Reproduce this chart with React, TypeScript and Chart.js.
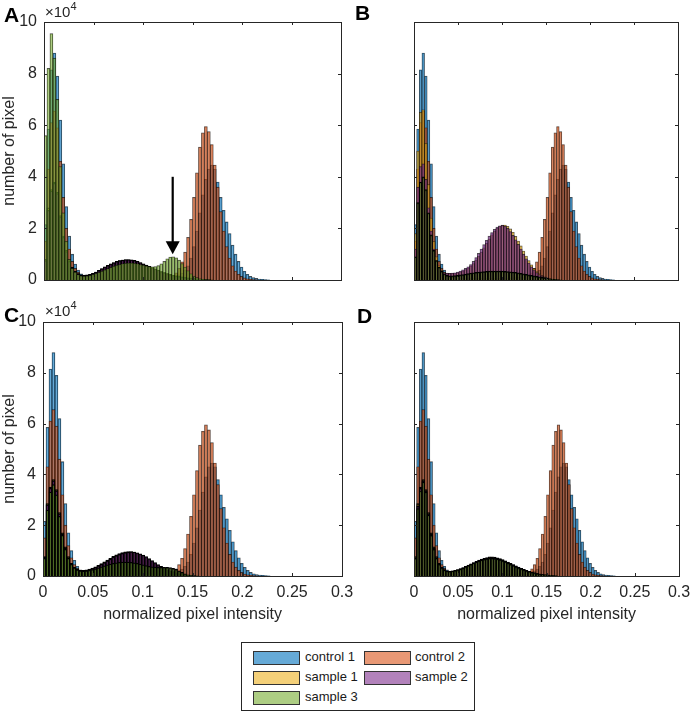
import React, { useEffect, useRef } from "react";
import { Chart, registerables } from "chart.js";

Chart.register(...registerables);

const FONT = "'Liberation Sans', Arial, Helvetica, sans-serif";
const AXIS_COLOR = "#262626";

// ---------- data (y in units of 10^4 pixels) ----------
const BIN_WIDTH = 0.003;
const X_MIN = 0;
const X_MAX = 0.3;
const X_STEP = 0.05;
const Y_MIN = 0;
const Y_MAX = 10;
const Y_STEP = 2;
const X_TICKS = [0, 0.05, 0.1, 0.15, 0.2, 0.25, 0.3];
const Y_TICKS = [0, 2, 4, 6, 8, 10];
const SERIES = ["control 1", "control 2", "sample 1", "sample 2", "sample 3"];
const X_TITLE = "normalized pixel intensity";
const Y_TITLE = "number of pixel";
const Y_EXPONENT = "4";

const control1 = [
  2.15, 5.85, 8.15, 8.8, 7.9, 6.2, 4.5, 2.85, 1.7, 1.0,
  0.62, 0.38, 0.24, 0.16, 0.12, 0.1, 0.09, 0.08, 0.08, 0.07,
  0.07, 0.06, 0.06, 0.06, 0.06, 0.06, 0.06, 0.06, 0.06, 0.06,
  0.06, 0.06, 0.06, 0.07, 0.07, 0.08, 0.08, 0.09, 0.1, 0.11,
  0.12, 0.13, 0.14, 0.15, 0.17, 0.2, 0.27, 0.38, 0.55, 0.85,
  1.3, 1.9, 2.6, 3.3, 3.9, 4.3, 4.45, 4.3, 3.8, 3.2,
  2.7, 2.25, 1.8, 1.35, 1.0, 0.72, 0.5, 0.34, 0.22, 0.14,
  0.09, 0.06, 0.04, 0.03, 0.02, 0.01,
];
const control2 = [
  1.5, 4.3, 6.1, 6.55, 5.9, 4.6, 3.2, 2.0, 1.2, 0.72,
  0.45, 0.3, 0.2, 0.14, 0.1, 0.08, 0.07, 0.06, 0.06, 0.05,
  0.05, 0.05, 0.05, 0.05, 0.05, 0.05, 0.05, 0.05, 0.05, 0.05,
  0.05, 0.05, 0.05, 0.05, 0.05, 0.05, 0.06, 0.06, 0.07, 0.08,
  0.09, 0.1, 0.13, 0.18, 0.28, 0.45, 0.7, 1.08, 1.65, 2.35,
  3.2, 4.15, 5.15, 5.7, 5.95, 5.75, 5.25, 4.45, 3.6, 2.65,
  1.9, 1.3, 0.85, 0.55, 0.35, 0.22, 0.14, 0.08, 0.05, 0.03,
  0.02, 0.01,
];

// Panel A
const sampleA1 = [
  0.8, 2.8, 3.5, 3.8, 3.4, 2.5, 1.7, 1.15, 0.75, 0.5,
  0.35, 0.25, 0.2, 0.19, 0.2, 0.22, 0.26, 0.31, 0.37, 0.43,
  0.5, 0.56, 0.62, 0.67, 0.71, 0.75, 0.77, 0.78, 0.78, 0.77,
  0.74, 0.71, 0.67, 0.62, 0.57, 0.52, 0.47, 0.42, 0.37, 0.33,
  0.29, 0.25, 0.22, 0.19, 0.16, 0.14, 0.12, 0.1, 0.08, 0.07,
  0.06, 0.05, 0.04, 0.03, 0.03, 0.02, 0.01,
];
const sampleA2 = [
  0.75, 2.7, 3.45, 3.75, 3.35, 2.45, 1.65, 1.1, 0.72, 0.48,
  0.33, 0.24, 0.19, 0.18, 0.19, 0.22, 0.26, 0.31, 0.37, 0.44,
  0.51, 0.57, 0.63, 0.68, 0.72, 0.75, 0.77, 0.79, 0.79, 0.78,
  0.76, 0.72, 0.68, 0.63, 0.58, 0.53, 0.48, 0.43, 0.38, 0.33,
  0.29, 0.25, 0.21, 0.18, 0.15, 0.13, 0.11, 0.09, 0.07, 0.06,
  0.05, 0.04, 0.03, 0.02, 0.02, 0.01,
];
const sampleA3 = [
  5.6, 8.2, 9.55, 8.6, 7.0, 4.4, 2.6, 1.5, 0.8, 0.45,
  0.3, 0.2, 0.16, 0.15, 0.16, 0.18, 0.21, 0.25, 0.29, 0.34,
  0.39, 0.44, 0.49, 0.53, 0.57, 0.6, 0.63, 0.65, 0.66, 0.66,
  0.65, 0.63, 0.6, 0.57, 0.54, 0.52, 0.51, 0.52, 0.56, 0.63,
  0.72, 0.82, 0.89, 0.9, 0.86, 0.77, 0.64, 0.5, 0.36, 0.24,
  0.15, 0.09, 0.05, 0.03, 0.02, 0.01,
];

// Panel B
const sampleB1 = [
  1.8, 5.0, 6.5, 6.6, 5.3, 3.7, 2.4, 1.5, 0.9, 0.55,
  0.38, 0.3, 0.27, 0.26, 0.26, 0.26, 0.28, 0.31, 0.35, 0.4,
  0.46, 0.54, 0.64, 0.77, 0.92, 1.08, 1.25, 1.42, 1.59, 1.75,
  1.89, 2.0, 2.08, 2.13, 2.13, 2.08, 1.98, 1.85, 1.69, 1.51,
  1.32, 1.12, 0.93, 0.75, 0.59, 0.45, 0.33, 0.24, 0.17, 0.12,
  0.08, 0.05, 0.03, 0.02, 0.01,
];
const sampleB2 = [
  1.2, 3.6, 4.4, 4.5, 3.9, 2.8, 1.9, 1.2, 0.75, 0.5,
  0.36, 0.29, 0.26, 0.26, 0.27, 0.28, 0.31, 0.35, 0.39, 0.45,
  0.51, 0.6, 0.72, 0.87, 1.03, 1.2, 1.37, 1.54, 1.7, 1.84,
  1.96, 2.05, 2.1, 2.12, 2.08, 2.0, 1.88, 1.73, 1.56, 1.38,
  1.2, 1.0, 0.82, 0.66, 0.51, 0.39, 0.29, 0.21, 0.15, 0.1,
  0.07, 0.05, 0.03, 0.02, 0.01,
];
const sampleB3 = [
  0.9, 3.0, 3.8, 4.0, 3.5, 2.6, 1.75, 1.15, 0.75, 0.5,
  0.34, 0.24, 0.18, 0.16, 0.16, 0.17, 0.18, 0.2, 0.21, 0.23,
  0.25, 0.27, 0.28, 0.3, 0.31, 0.32, 0.33, 0.34, 0.35, 0.35,
  0.35, 0.35, 0.35, 0.35, 0.34, 0.33, 0.32, 0.31, 0.3, 0.28,
  0.26, 0.24, 0.22, 0.2, 0.18, 0.16, 0.14, 0.12, 0.1, 0.08,
  0.06, 0.05, 0.04, 0.03, 0.02, 0.01,
];

// Panel C
const sampleC1 = [
  0.76, 2.85, 3.5, 3.8, 3.4, 2.5, 1.7, 1.15, 0.76, 0.5,
  0.35, 0.26, 0.22, 0.22, 0.24, 0.27, 0.31, 0.36, 0.42, 0.49,
  0.56, 0.63, 0.7, 0.77, 0.83, 0.88, 0.92, 0.95, 0.96, 0.96,
  0.94, 0.9, 0.85, 0.79, 0.72, 0.64, 0.56, 0.48, 0.41, 0.34,
  0.28, 0.22, 0.17, 0.13, 0.1, 0.07, 0.05, 0.04, 0.03, 0.02,
  0.01,
];
const sampleC2 = [
  0.74, 2.8, 3.45, 3.75, 3.35, 2.45, 1.65, 1.1, 0.72, 0.48,
  0.34, 0.25, 0.21, 0.2, 0.22, 0.25, 0.29, 0.34, 0.4, 0.46,
  0.53, 0.6, 0.67, 0.74, 0.8, 0.85, 0.89, 0.92, 0.94, 0.95,
  0.94, 0.91, 0.87, 0.82, 0.76, 0.69, 0.61, 0.53, 0.45, 0.38,
  0.31, 0.25, 0.2, 0.15, 0.11, 0.08, 0.06, 0.04, 0.03, 0.02,
  0.01,
];
const sampleC3 = [
  0.7, 2.6, 3.3, 3.6, 3.2, 2.35, 1.6, 1.05, 0.7, 0.46,
  0.32, 0.24, 0.2, 0.19, 0.2, 0.22, 0.25, 0.28, 0.32, 0.36,
  0.4, 0.44, 0.47, 0.5, 0.52, 0.54, 0.55, 0.55, 0.55, 0.54,
  0.52, 0.5, 0.47, 0.44, 0.41, 0.38, 0.36, 0.35, 0.34, 0.34,
  0.34, 0.34, 0.33, 0.3, 0.26, 0.2, 0.14, 0.09, 0.05, 0.03,
  0.02, 0.01,
];

// Panel D
const sampleD1 = [
  0.76, 2.85, 3.5, 3.8, 3.4, 2.5, 1.7, 1.15, 0.76, 0.5,
  0.35, 0.25, 0.2, 0.19, 0.2, 0.22, 0.25, 0.29, 0.33, 0.38,
  0.43, 0.48, 0.53, 0.58, 0.63, 0.67, 0.7, 0.73, 0.75, 0.75,
  0.74, 0.72, 0.69, 0.65, 0.6, 0.55, 0.5, 0.45, 0.4, 0.35,
  0.3, 0.26, 0.22, 0.18, 0.15, 0.12, 0.1, 0.08, 0.06, 0.05,
  0.04, 0.03, 0.02, 0.01,
];
const sampleD2 = [
  0.72, 2.75, 3.45, 3.75, 3.35, 2.45, 1.65, 1.1, 0.72, 0.48,
  0.33, 0.24, 0.19, 0.18, 0.19, 0.21, 0.24, 0.28, 0.32, 0.37,
  0.42, 0.47, 0.52, 0.57, 0.61, 0.65, 0.68, 0.71, 0.72, 0.73,
  0.72, 0.7, 0.67, 0.63, 0.59, 0.54, 0.49, 0.44, 0.39, 0.34,
  0.3, 0.25, 0.21, 0.18, 0.15, 0.12, 0.1, 0.08, 0.06, 0.05,
  0.04, 0.03, 0.02, 0.01,
];
const sampleD3 = [
  0.7, 2.65, 3.35, 3.7, 3.3, 2.4, 1.6, 1.05, 0.7, 0.46,
  0.32, 0.23, 0.19, 0.18, 0.19, 0.21, 0.24, 0.27, 0.31, 0.36,
  0.41, 0.46, 0.51, 0.55, 0.59, 0.63, 0.66, 0.68, 0.7, 0.7,
  0.69, 0.67, 0.64, 0.6, 0.56, 0.51, 0.46, 0.41, 0.36, 0.32,
  0.28, 0.24, 0.2, 0.17, 0.14, 0.12, 0.1, 0.08, 0.06, 0.05,
  0.04, 0.03, 0.02, 0.01,
];

// arrow annotation in panel A (data coordinates)
const ARROW_A = { x: 0.13, from: 4.0, to: 1.0 };

// ---------- styles ----------
const FILL = [
  "rgba(0,114,189,0.6)",
  "rgba(217,83,25,0.6)",
  "rgba(237,177,32,0.6)",
  "rgba(126,47,142,0.6)",
  "rgba(119,172,48,0.6)",
];

type PanelCfg = {
  letter: string;
  samples: number[][];
  dark: boolean[];
  left: number;
  top: number;
  w: number;
  h: number;
  padL: number;
  padT: number;
  padR: number;
  padB: number;
  showY: boolean;
  showX: boolean;
  arrow?: { x: number; from: number; to: number };
};

const PANELS: PanelCfg[] = [
  { letter: "A", samples: [sampleA1, sampleA2, sampleA3], dark: [true, true, false], left: 0, top: 0, w: 346, h: 290, padL: 44, padT: 22, padR: 5, padB: 5, showY: true, showX: false, arrow: ARROW_A },
  { letter: "B", samples: [sampleB1, sampleB2, sampleB3], dark: [false, false, true], left: 346, top: 0, w: 346, h: 290, padL: 34, padT: 22, padR: 14, padB: 5, showY: false, showX: false },
  { letter: "C", samples: [sampleC1, sampleC2, sampleC3], dark: [true, true, true], left: 0, top: 290, w: 372, h: 340, padL: 43, padT: 32, padR: 30, padB: 54, showY: true, showX: true },
  { letter: "D", samples: [sampleD1, sampleD2, sampleD3], dark: [true, true, true], left: 346, top: 290, w: 346, h: 340, padL: 34, padT: 32, padR: 13, padB: 54, showY: false, showX: true },
];

const framePlugin = {
  id: "frame",
  afterDatasetsDraw(chart: any, _args: any, opts: any) {
    const { ctx, chartArea: a, scales } = chart;
    const xs = scales.x;
    const ys = scales.y;
    ctx.save();
    ctx.strokeStyle = AXIS_COLOR;
    ctx.lineWidth = 1;
    ctx.beginPath();
    for (const v of X_TICKS) {
      const px = Math.round(xs.getPixelForValue(v)) + 0.5;
      ctx.moveTo(px, a.bottom);
      ctx.lineTo(px, a.bottom - 3);
      ctx.moveTo(px, a.top);
      ctx.lineTo(px, a.top + 3);
    }
    for (const v of Y_TICKS) {
      const py = Math.round(ys.getPixelForValue(v)) + 0.5;
      ctx.moveTo(a.left, py);
      ctx.lineTo(a.left + 3, py);
      ctx.moveTo(a.right, py);
      ctx.lineTo(a.right - 3, py);
    }
    ctx.stroke();
    ctx.strokeRect(
      Math.round(a.left) + 0.5,
      Math.round(a.top) + 0.5,
      Math.round(a.right - a.left),
      Math.round(a.bottom - a.top)
    );
    const arrow = opts && opts.arrow;
    if (arrow) {
      const x = xs.getPixelForValue(arrow.x);
      const y0 = ys.getPixelForValue(arrow.from);
      const y1 = ys.getPixelForValue(arrow.to);
      const head = 13;
      ctx.strokeStyle = "#000";
      ctx.fillStyle = "#000";
      ctx.lineWidth = 2.2;
      ctx.beginPath();
      ctx.moveTo(x, y0);
      ctx.lineTo(x, y1 - head + 1);
      ctx.stroke();
      ctx.beginPath();
      ctx.moveTo(x - 7, y1 - head);
      ctx.lineTo(x + 7, y1 - head);
      ctx.lineTo(x, y1);
      ctx.closePath();
      ctx.fill();
    }
    ctx.restore();
  },
};

function Panel({ cfg }: { cfg: PanelCfg }) {
  const ref = useRef<HTMLCanvasElement>(null);
  useEffect(() => {
    if (!ref.current) return;
    const series = [control1, control2, ...cfg.samples];
    const darkFlags = [false, false, ...cfg.dark];
    const datasets = series.map((vals, i) => ({
      label: SERIES[i],
      data: vals.map((v, k) => ({ x: X_MIN + (k + 0.5) * BIN_WIDTH, y: v })),
      backgroundColor: FILL[i],
      borderColor: darkFlags[i] ? "rgba(0,0,0,1)" : "rgba(0,0,0,0.7)",
      borderWidth: darkFlags[i] ? 1.25 : 0.6,
      order: 5 - i,
      grouped: false,
      barPercentage: 1,
      categoryPercentage: 1,
    }));
    const tickFont = { family: FONT, size: 16 };
    const chart = new Chart(ref.current, {
      type: "bar",
      data: { datasets } as any,
      options: {
        animation: false,
        responsive: false,
        maintainAspectRatio: false,
        devicePixelRatio: 1,
        events: [],
        layout: {
          padding: {
            left: cfg.showY ? 0 : cfg.padL,
            top: cfg.padT,
            right: cfg.padR,
            bottom: cfg.showX ? 0 : cfg.padB,
          },
        },
        plugins: {
          legend: { display: false },
          tooltip: { enabled: false },
          frame: { arrow: cfg.arrow },
        } as any,
        scales: {
          x: {
            type: "linear",
            min: X_MIN,
            max: X_MAX,
            offset: false,
            display: cfg.showX,
            grid: { display: false, drawTicks: false },
            border: { display: false },
            ticks: {
              stepSize: X_STEP,
              padding: 7,
              color: AXIS_COLOR,
              font: tickFont,
              maxRotation: 0,
              autoSkip: false,
              callback: (v: any) => String(Math.round(Number(v) * 100) / 100),
            },
            title: {
              display: true,
              text: X_TITLE,
              color: AXIS_COLOR,
              font: { family: FONT, size: 16 },
              padding: { top: 0, bottom: 6 },
            },
            afterFit: (s: any) => {
              s.height = cfg.padB;
              s.paddingLeft = 0;
              s.paddingRight = 0;
            },
          },
          y: {
            type: "linear",
            min: Y_MIN,
            max: Y_MAX,
            display: cfg.showY,
            grid: { display: false, drawTicks: false },
            border: { display: false },
            ticks: {
              stepSize: Y_STEP,
              padding: 7,
              color: AXIS_COLOR,
              font: tickFont,
              callback: (v: any) => String(v),
            },
            title: {
              display: true,
              text: Y_TITLE,
              color: AXIS_COLOR,
              font: { family: FONT, size: 16 },
              padding: { top: 0, bottom: 0 },
            },
            afterFit: (s: any) => {
              s.width = cfg.padL;
              s.paddingTop = 0;
              s.paddingBottom = 0;
            },
          },
        } as any,
      },
      plugins: [framePlugin as any],
    });
    return () => chart.destroy();
  }, []);
  return (
    <canvas
      ref={ref}
      width={cfg.w}
      height={cfg.h}
      style={{ position: "absolute", left: cfg.left, top: cfg.top, width: cfg.w, height: cfg.h }}
    />
  );
}

const LETTER_POS: Record<string, { left: number; top: number }> = {
  A: { left: 4, top: 4 },
  B: { left: 355, top: 2 },
  C: { left: 4, top: 304 },
  D: { left: 357, top: 305 },
};
const EXP_POS = [
  { left: 45, top: 4 },
  { left: 45, top: 303 },
];

const LEGEND_ITEMS = [
  { idx: 0, col: 0, row: 0 },
  { idx: 1, col: 1, row: 0 },
  { idx: 2, col: 0, row: 1 },
  { idx: 3, col: 1, row: 1 },
  { idx: 4, col: 0, row: 2 },
];

export default function App() {
  return (
    <div
      style={{
        position: "absolute",
        left: 0,
        top: 0,
        width: 692,
        height: 713,
        background: "#fff",
        fontFamily: FONT,
        color: AXIS_COLOR,
        overflow: "hidden",
      }}
    >
      {PANELS.map((p) => (
        <Panel key={p.letter} cfg={p} />
      ))}
      {PANELS.map((p) => (
        <div
          key={"L" + p.letter}
          style={{
            position: "absolute",
            left: LETTER_POS[p.letter].left,
            top: LETTER_POS[p.letter].top,
            fontSize: 21,
            fontWeight: "bold",
            lineHeight: "21px",
            color: "#000",
          }}
        >
          {p.letter}
        </div>
      ))}
      {EXP_POS.map((e, i) => (
        <div
          key={"E" + i}
          style={{ position: "absolute", left: e.left, top: e.top, fontSize: 15, lineHeight: "15px", whiteSpace: "nowrap" }}
        >
          ×10
          <span style={{ fontSize: 11, position: "relative", top: -7 }}>{Y_EXPONENT}</span>
        </div>
      ))}
      <div
        style={{
          position: "absolute",
          left: 241,
          top: 642,
          width: 232,
          height: 67,
          border: "1px solid #262626",
          background: "#fff",
        }}
      >
        {LEGEND_ITEMS.map((it) => (
          <React.Fragment key={it.idx}>
            <div
              style={{
                position: "absolute",
                left: it.col === 0 ? 11 : 122,
                top: 8 + it.row * 20,
                width: 45,
                height: 12,
                background: FILL[it.idx],
                border: "1px solid #333",
              }}
            />
            <div
              style={{
                position: "absolute",
                left: it.col === 0 ? 63 : 173,
                top: 6 + it.row * 20,
                fontSize: 13,
                lineHeight: "16px",
                color: "#1a1a1a",
                whiteSpace: "nowrap",
              }}
            >
              {SERIES[it.idx]}
            </div>
          </React.Fragment>
        ))}
      </div>
    </div>
  );
}
